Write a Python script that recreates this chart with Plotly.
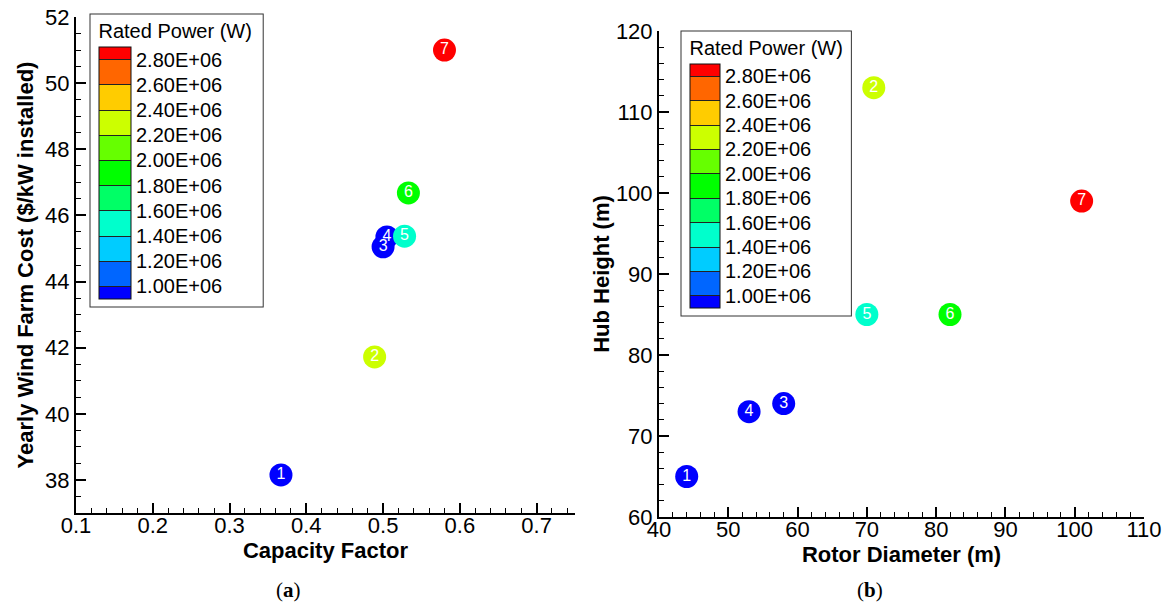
import plotly.graph_objects as go

# ---------------- data ----------------
point_ids = ["1", "2", "3", "4", "5", "6", "7"]
capacity_factor = [0.367, 0.489, 0.500, 0.505, 0.528, 0.533, 0.580]
farm_cost = [38.15, 41.72, 45.05, 45.35, 45.37, 46.68, 51.0]
rotor_diameter = [44, 71, 58, 53, 70, 82, 101]
hub_height = [65, 113, 74, 73, 85, 85, 99]
rated_power = [0.9e6, 2.3e6, 1.0e6, 0.8e6, 1.5e6, 2.0e6, 3.05e6]

levels = [1.0e6, 1.2e6, 1.4e6, 1.6e6, 1.8e6, 2.0e6, 2.2e6, 2.4e6, 2.6e6, 2.8e6]
band_colors = ["#0000FF", "#0066FF", "#00CCFF", "#00FFCC", "#00FF66", "#00FF00",
               "#66FF00", "#CCFF00", "#FFCC00", "#FF6600", "#FF0000"]
cmin, cmax = 0.9e6, 2.9e6
level_text = [f"{v:.2E}" for v in levels]

# stepwise colorscale (a value equal to a level falls in the lower band)
eps = 1e-6
colorscale = [[0.0, band_colors[0]]]
for i, lv in enumerate(levels):
    f = (lv - cmin) / (cmax - cmin) + eps
    colorscale.append([f, band_colors[i]])
    colorscale.append([f, band_colors[i + 1]])
colorscale.append([1.0, band_colors[-1]])

W, H = 1170, 610
ML, MR, MT, MB = 76, 26, 17, 93
PW, PH = W - ML - MR, H - MT - MB
FONT = "Liberation Sans, Arial, Helvetica, sans-serif"


def px_x(x):
    return (x - ML) / PW


def px_y(y):
    return (H - MB - y) / PH


def colorbar(x_left, y_top, length, thick):
    return dict(
        title=dict(text="Rated Power (W)", side="top", font=dict(size=20, family=FONT, color="black")),
        tickvals=levels, ticktext=level_text,
        ticks="inside", ticklen=thick, tickwidth=1, tickcolor="#222",
        tickfont=dict(size=20, family=FONT, color="black"),
        thickness=thick, thicknessmode="pixels",
        len=length, lenmode="pixels",
        x=px_x(x_left), xanchor="left", xref="paper",
        y=px_y(y_top), yanchor="top", yref="paper",
        outlinewidth=1, outlinecolor="#111",
        bordercolor="#333", borderwidth=1, bgcolor="white",
        xpad=8, ypad=6,
    )


fig = go.Figure()
fig.add_trace(go.Scatter(
    x=capacity_factor, y=farm_cost, text=point_ids, mode="markers+text",
    textposition="middle center", textfont=dict(color="white", size=16, family=FONT),
    marker=dict(size=23, color=rated_power, colorscale=colorscale, cmin=cmin, cmax=cmax,
                line=dict(width=0), showscale=True, colorbar=colorbar(91, 14, 291, 32)),
    xaxis="x", yaxis="y", showlegend=False, hoverinfo="skip",
))
fig.add_trace(go.Scatter(
    x=rotor_diameter, y=hub_height, text=point_ids, mode="markers+text",
    textposition="middle center", textfont=dict(color="white", size=16, family=FONT),
    marker=dict(size=23, color=rated_power, colorscale=colorscale, cmin=cmin, cmax=cmax,
                line=dict(width=0), showscale=True, colorbar=colorbar(682, 31, 283, 30)),
    xaxis="x2", yaxis="y2", showlegend=False, hoverinfo="skip",
))


def axis(rng, dom, dtick, tick0, mdtick, title, standoff, fmt=None, anchor=None, lblshift=0):
    d = dict(
        range=rng, domain=dom, dtick=dtick, tick0=tick0,
        showline=True, linecolor="black", linewidth=2, mirror=False,
        ticks="inside", ticklen=10, tickwidth=2, tickcolor="black",
        minor=dict(ticks="inside", ticklen=5, tickwidth=1, tickcolor="black", dtick=mdtick, tick0=tick0, showgrid=False),
        showgrid=False, zeroline=False,
        tickfont=dict(size=22, family=FONT, color="black"),
        ticklabelstandoff=lblshift,
        title=dict(text=f"<b>{title}</b>", font=dict(size=22, family=FONT, color="black"), standoff=standoff),
        fixedrange=True,
    )
    if fmt:
        d["tickformat"] = fmt
    if anchor:
        d["anchor"] = anchor
    return d


fig.update_layout(
    width=W, height=H,
    margin=dict(l=ML, r=MR, t=MT, b=MB, autoexpand=False),
    paper_bgcolor="white", plot_bgcolor="white",
    font=dict(family=FONT, color="black"),
    xaxis=axis([0.1, 0.75], [px_x(76), px_x(575)], 0.1, 0.1, 0.02, "Capacity Factor", 2, ".1f", "y", -8),
    yaxis=axis([37, 52], [px_y(513), px_y(17)], 2, 38, 0.5, "Yearly Wind Farm Cost ($/kW installed)", 5, None, "x"),
    xaxis2=axis([40, 110], [px_x(659), px_x(1144)], 10, 40, 2, "Rotor Diameter (m)", 2, None, "y2", -8),
    yaxis2=axis([60, 120], [px_y(517), px_y(31)], 10, 60, 2, "Hub Height (m)", 0, None, "x2"),
    annotations=[
        dict(text="(<b>a</b>)", x=px_x(288), y=px_y(590), xref="paper", yref="paper",
             xanchor="center", yanchor="middle",
             showarrow=False, font=dict(size=21, family="Liberation Serif, serif", color="black")),
        dict(text="(<b>b</b>)", x=px_x(870), y=px_y(590), xref="paper", yref="paper",
             xanchor="center", yanchor="middle",
             showarrow=False, font=dict(size=21, family="Liberation Serif, serif", color="black")),
    ],
)

fig.write_html("out.html", config={"displayModeBar": False},
               post_script="document.body.style.margin='0';")
